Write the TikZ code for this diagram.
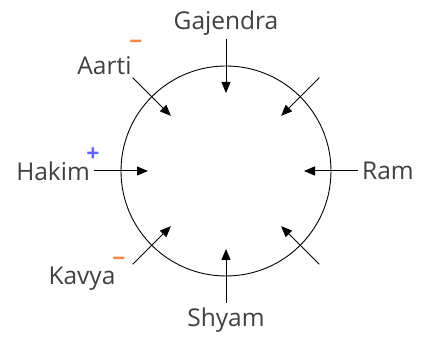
\documentclass[tikz,border=0pt]{standalone}
\usepackage{fontspec}
\setmainfont{Open Sans}
\usetikzlibrary{arrows.meta, positioning, calc}
\definecolor{labelgray}{RGB}{64,64,64}
\definecolor{minusorange}{RGB}{244,137,75}
\definecolor{plusblue}{RGB}{100,100,255}

\begin{document}
\begin{tikzpicture}[
    x=1pt, y=1pt,
    person/.style={text=labelgray, font=\fontsize{24.5}{27}\selectfont, inner sep=1pt},
    sign/.style={font=\bfseries\fontsize{23}{25}\selectfont, inner sep=0pt},
    pointer/.style={-{Triangle[length=11pt, width=9pt]}, line width=1pt, black}
]
    \useasboundingbox (0,0) rectangle (421,339);
    \node[circle, draw, line width=0.9pt, minimum size=210pt, inner sep=0pt] (ring) at (226,168) {};

    % eight arrows pointing into the ring
    \foreach \ang/\tag in {90/gaj, 45/ne, 0/ram, -45/se, -90/shy, -135/kav, 180/hak, 135/aar}{
        \coordinate (\tag-out) at ($(ring.center)+(\ang:132)$);
        \coordinate (\tag-in) at ($(ring.center)+(\ang:78)$);
        \draw[pointer] (\tag-out) -- (\tag-in);
    }

    \node[person, above=2pt of gaj-out] (gajendra) {Gajendra};
    \node[person, right=3pt of ram-out] (ram) {Ram};
    \node[person, below=4pt of shy-out] (shyam) {Shyam};
    \node[person, left=3pt of hak-out] (hakim) {Hakim};
    \node[person, anchor=south east] (aarti) at ($(aar-out)+(0,2)$) {Aarti};
    \node[person, anchor=north east] (kavya) at ($(kav-out)+(-16,-1)$) {Kavya};

    % charges
    \node[sign, text=minusorange] (aarti-sign) at (136,294) {−};
    \node[sign, text=plusblue] (hakim-sign) at (93,184) {+};
    \node[sign, text=minusorange] (kavya-sign) at (119,77) {−};
\end{tikzpicture}
\end{document}
